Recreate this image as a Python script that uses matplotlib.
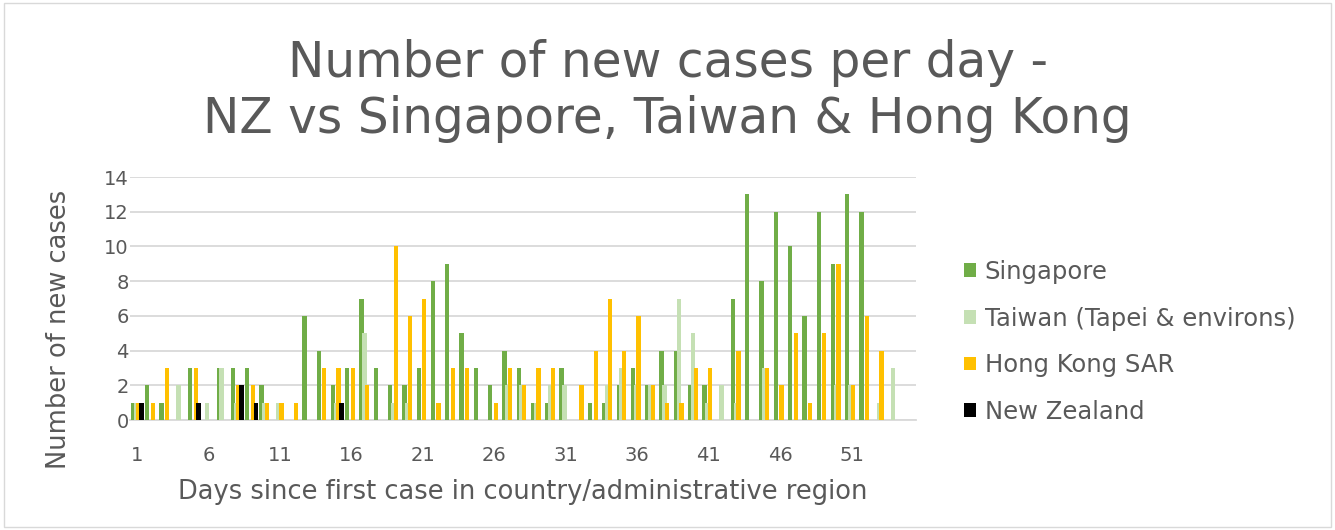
import numpy as np
from matplotlib import pyplot as plt
from matplotlib.patches import Rectangle

days = list(range(1, 56))

singapore = [1, 2, 1, 0, 3, 0, 3, 3, 3, 2, 0, 0, 6, 4, 2, 3, 7, 3, 2, 2,
             3, 8, 9, 5, 3, 2, 4, 3, 1, 1, 3, 0, 1, 1, 2, 3, 2, 4, 4, 2,
             2, 0, 7, 13, 8, 12, 10, 6, 12, 9, 13, 12, 0, 0, 0]
taiwan = [1, 0, 0, 2, 0, 1, 3, 1, 0, 1, 1, 0, 0, 0, 1, 0, 5, 0, 1, 1,
          0, 0, 0, 0, 0, 0, 2, 2, 1, 2, 2, 0, 0, 2, 3, 2, 2, 2, 7, 5,
          1, 2, 1, 0, 3, 0, 0, 0, 0, 2, 2, 0, 1, 3, 0]
hong_kong = [1, 1, 3, 0, 3, 0, 0, 2, 2, 1, 1, 1, 0, 3, 3, 3, 2, 0, 10, 6,
             7, 1, 3, 3, 0, 1, 3, 2, 3, 3, 0, 2, 4, 7, 4, 6, 2, 1, 1, 3,
             3, 0, 4, 0, 3, 2, 5, 1, 5, 9, 2, 6, 4, 0, 0]
new_zealand = [1, 0, 0, 0, 1, 0, 0, 2, 1, 0, 0, 0, 0, 0, 1, 0, 0, 0, 0, 0,
               0, 0, 0, 0, 0, 0, 0, 0, 0, 0, 0, 0, 0, 0, 0, 0, 0, 0, 0, 0,
               0, 0, 0, 0, 0, 0, 0, 0, 0, 0, 0, 0, 0, 0, 0]

series = [
    ("Singapore", singapore, "#70AD47"),
    ("Taiwan (Tapei & environs)", taiwan, "#C5E0B4"),
    ("Hong Kong SAR", hong_kong, "#FFC000"),
    ("New Zealand", new_zealand, "#000000"),
]

text_color = "#595959"
plt.rcParams['font.family'] = ['DejaVu Sans']

fig = plt.figure(figsize=(13.35, 5.3), dpi=100)
ax = fig.add_axes([0.0974, 0.2075, 0.5886, 0.4585])

x = np.arange(len(days))
offsets = [-0.295, -0.098, 0.098, 0.295]
for (name, values, color), off in zip(series, offsets):
    ax.bar(x + off, values, width=0.3, color=color, label=name, zorder=3)

ax.set_xlim(-0.5, len(days) - 0.5)
ax.set_ylim(0, 14)
ax.set_yticks(range(0, 15, 2))
ax.set_xticks(x[::5])
ax.set_xticklabels([str(d) for d in days[::5]])
ax.tick_params(axis='both', length=0, labelsize=14, colors=text_color)
ax.tick_params(axis='y', pad=1)
ax.tick_params(axis='x', pad=19)
ax.grid(axis='y', color="#d9d9d9", linewidth=1.3, zorder=0)
for side in ['top', 'right', 'left']:
    ax.spines[side].set_visible(False)
ax.spines['bottom'].set_color("#d9d9d9")
ax.spines['bottom'].set_linewidth(1.3)

ax.set_ylabel('Number of new cases', fontsize=18.5, color=text_color)
ax.yaxis.set_label_coords(-0.0738, 0.374)
ax.set_xlabel('Days since first case in country/administrative region',
              fontsize=18.5, color=text_color, labelpad=10)

fig.text(0.5, 0.828, 'Number of new cases per day -\nNZ vs Singapore, Taiwan & Hong Kong',
         ha='center', va='center', fontsize=35, color=text_color, linespacing=1.2)

ax.legend(loc='center left', bbox_to_anchor=(0.722, 0.355), bbox_transform=fig.transFigure,
          frameon=False, fontsize=17.5, labelcolor=text_color, handlelength=0.5,
          handleheight=0.5, handletextpad=0.35, labelspacing=0.93, borderpad=0,
          borderaxespad=0)

fig.patches.append(Rectangle((0.003, 0.005), 0.994, 0.99, transform=fig.transFigure,
                             fill=False, edgecolor="#d9d9d9", linewidth=1))

fig.savefig('out.png', dpi=100)
